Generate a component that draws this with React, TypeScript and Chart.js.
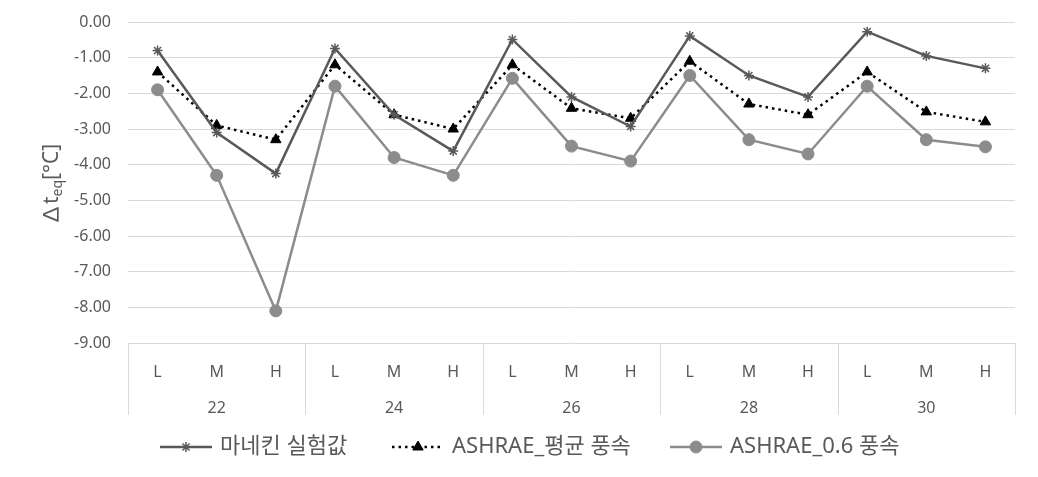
import React, { useEffect, useRef } from "react";
import { Chart, registerables } from "chart.js";
import { drawPoint } from "chart.js/helpers";

Chart.register(...registerables);

const groups = ["22", "24", "26", "28", "30"];
const levels = ["L", "M", "H", "L", "M", "H", "L", "M", "H", "L", "M", "H", "L", "M", "H"];
const yTicks = [0, -1, -2, -3, -4, -5, -6, -7, -8, -9];

const mannequin = [-0.8, -3.1, -4.25, -0.74, -2.6, -3.62, -0.49, -2.1, -2.93, -0.39, -1.5, -2.1, -0.27, -0.95, -1.3];
const ashraeAvg = [-1.4, -2.9, -3.3, -1.2, -2.6, -3.0, -1.2, -2.42, -2.7, -1.1, -2.3, -2.6, -1.4, -2.52, -2.8];
const ashrae06 = [-1.9, -4.3, -8.1, -1.8, -3.8, -4.3, -1.58, -3.48, -3.9, -1.5, -3.3, -3.7, -1.8, -3.3, -3.5];

const seriesNames = ["마네킨 실험값", "ASHRAE_평균 풍속", "ASHRAE_0.6 풍속"];

const FONT = '"Noto Sans", "Noto Sans CJK KR", sans-serif';
const TEXT = "#595959";
const GRID = "#d9d9d9";

const tablePlugin = {
  id: "tableLines",
  afterDraw(chart: any) {
    const { ctx, chartArea } = chart;
    const x2 = chart.scales.x2;
    ctx.save();
    ctx.strokeStyle = GRID;
    ctx.lineWidth = 1;
    const n = groups.length;
    for (let k = 0; k <= n; k++) {
      const x = Math.round(chartArea.left + (k * (chartArea.right - chartArea.left)) / n) + 0.5;
      ctx.beginPath();
      ctx.moveTo(x, chartArea.bottom);
      ctx.lineTo(x, x2.bottom);
      ctx.stroke();
    }
    ctx.restore();
  },
};

const yTitlePlugin = {
  id: "yTitle",
  afterDraw(chart: any) {
    const { ctx, chartArea } = chart;
    ctx.save();
    ctx.translate(52, (chartArea.top + chartArea.bottom) / 2 + 2);
    ctx.rotate(-Math.PI / 2);
    ctx.fillStyle = TEXT;
    ctx.textBaseline = "middle";
    const big = `21px ${FONT}`;
    const small = `14px ${FONT}`;
    const parts = [
      { t: "∆t", f: big, dy: 0 },
      { t: "eq", f: small, dy: 6 },
      { t: "[°C]", f: big, dy: 0 },
    ];
    let total = 0;
    for (const p of parts) {
      ctx.font = p.f;
      total += ctx.measureText(p.t).width;
    }
    let x = -total / 2;
    for (const p of parts) {
      ctx.font = p.f;
      ctx.textAlign = "left";
      ctx.fillText(p.t, x, p.dy);
      x += ctx.measureText(p.t).width;
    }
    ctx.restore();
  },
};

const legendPlugin = {
  id: "lineLegend",
  afterDraw(chart: any) {
    const { ctx } = chart;
    const y = 447;
    const starts = [160, 392, 670];
    ctx.save();
    chart.data.datasets.forEach((ds: any, i: number) => {
      const x0 = starts[i];
      ctx.strokeStyle = ds.borderColor;
      ctx.lineWidth = ds.borderWidth;
      ctx.setLineDash(ds.borderDash || []);
      ctx.beginPath();
      ctx.moveTo(x0, y);
      ctx.lineTo(x0 + 52, y);
      ctx.stroke();
      ctx.setLineDash([]);
      ctx.fillStyle = ds.pointBackgroundColor;
      ctx.strokeStyle = ds.pointBorderColor;
      ctx.lineWidth = ds.pointBorderWidth;
      drawPoint(ctx, { pointStyle: ds.pointStyle, radius: ds.pointRadius, rotation: 0, borderWidth: ds.pointBorderWidth }, x0 + 26, y);
      ctx.fillStyle = TEXT;
      ctx.font = `22px ${FONT}`;
      ctx.textAlign = "left";
      ctx.textBaseline = "middle";
      ctx.fillText(ds.label, x0 + 60, y);
    });
    ctx.restore();
  },
};

export default function App() {
  const ref = useRef<HTMLCanvasElement>(null);
  useEffect(() => {
    if (!ref.current) return;
    const chart = new Chart(ref.current, {
      type: "line",
      data: {
        labels: levels,
        datasets: [
          {
            label: seriesNames[0],
            data: mannequin,
            borderColor: "#595959",
            borderWidth: 2.5,
            pointStyle: "star",
            pointRadius: 5,
            pointBorderColor: "#595959",
            pointBackgroundColor: "#595959",
            pointBorderWidth: 1.5,
            tension: 0,
          },
          {
            label: seriesNames[1],
            data: ashraeAvg,
            borderColor: "#000000",
            borderWidth: 2.5,
            borderDash: [2.5, 4],
            pointStyle: "triangle",
            pointRadius: 6,
            pointBorderColor: "#000000",
            pointBackgroundColor: "#000000",
            pointBorderWidth: 1,
            tension: 0,
          },
          {
            label: seriesNames[2],
            data: ashrae06,
            borderColor: "#8c8c8c",
            borderWidth: 2.5,
            pointStyle: "circle",
            pointRadius: 6,
            pointBorderColor: "#8c8c8c",
            pointBackgroundColor: "#8c8c8c",
            pointBorderWidth: 1,
            tension: 0,
          },
        ],
      },
      options: {
        animation: false,
        responsive: false,
        layout: { padding: { left: 0, right: 23, top: 22, bottom: 62 } },
        plugins: { legend: { display: false }, tooltip: { enabled: false } },
        scales: {
          x: {
            type: "category",
            offset: true,
            grid: { display: false },
            border: { display: false },
            ticks: { color: TEXT, font: { family: FONT, size: 16 }, padding: 12, maxRotation: 0, autoSkip: false },
            afterFit: (s: any) => { s.height = 40; },
          },
          x2: {
            type: "category",
            labels: groups,
            position: "bottom",
            offset: true,
            grid: { display: false },
            border: { display: false },
            ticks: { color: TEXT, font: { family: FONT, size: 16 }, padding: 8, maxRotation: 0 },
            afterFit: (s: any) => { s.height = 32; },
          },
          y: {
            min: -9,
            max: 0,
            afterBuildTicks: (s: any) => { s.ticks = yTicks.map((v) => ({ value: v })); },
            grid: { color: GRID, lineWidth: 1, drawTicks: false },
            border: { display: false },
            ticks: {
              color: TEXT,
              font: { family: FONT, size: 16 },
              padding: 17,
              callback: (v: any) => Number(v).toFixed(2),
            },
            afterFit: (s: any) => { s.width = 128; s.paddingTop = 0; s.paddingBottom = 0; },
          },
        },
      },
      plugins: [tablePlugin, yTitlePlugin, legendPlugin],
    });
    return () => chart.destroy();
  }, []);
  return (
    <div style={{ position: "absolute", left: 0, top: 0, width: 1038, height: 477, background: "#fff" }}>
      <canvas ref={ref} width={1038} height={477} />
    </div>
  );
}
